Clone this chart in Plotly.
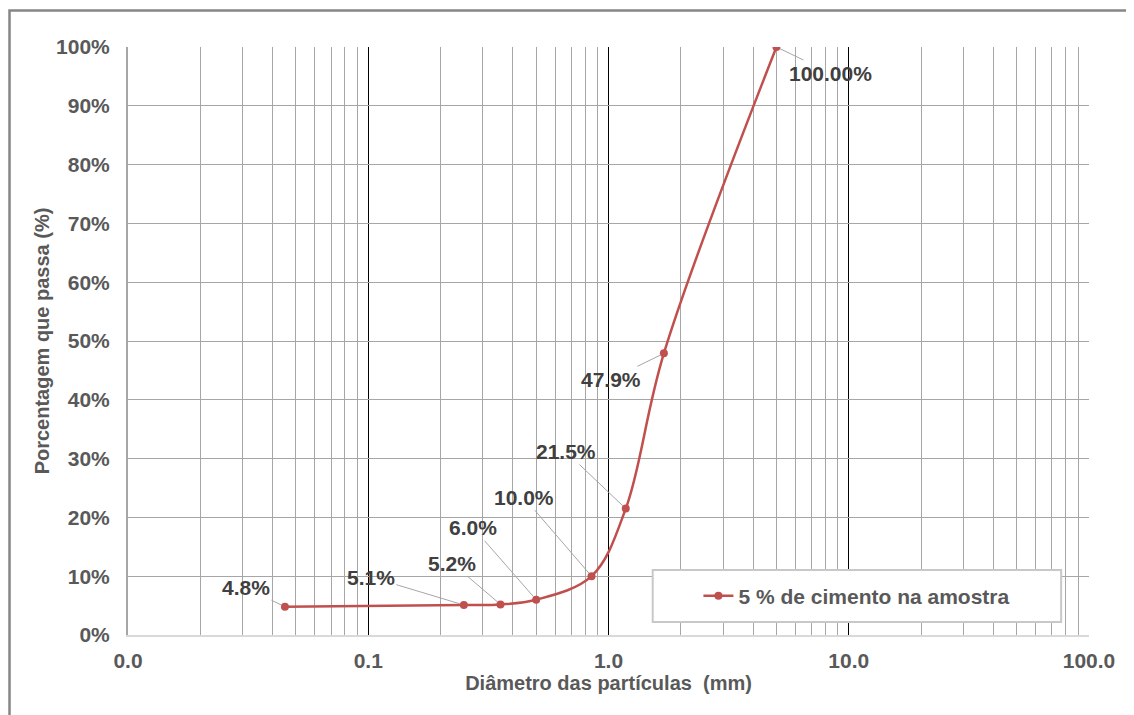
import math
import plotly.graph_objects as go

# Data
diametros = [0.045, 0.25, 0.355, 0.5, 0.85, 1.18, 1.7, 5.0]
passante = [4.8, 5.1, 5.2, 6.0, 10.0, 21.5, 47.9, 100.0]
rotulos = ["4.8%", "5.1%", "5.2%", "6.0%", "10.0%", "21.5%", "47.9%", "100.00%"]
serie_nome = "5 % de cimento na amostra"
decadas = [0.01, 0.1, 1, 10, 100]
decadas_txt = ["0.0", "0.1", "1.0", "10.0", "100.0"]
y_ticks = list(range(0, 101, 10))
y_ticktxt = [f"{v}%" for v in y_ticks]

# label offsets (pixels) for leader lines
label_ax = [-39, -93, -48, -63, -68, -60, -53, 54]
label_ay = [-19, -28, -41, -72, -79, -57, 26, 26]

FONT = "Liberation Sans, Arial, sans-serif"
RED = "#c0504d"
GRID = "#a6a6a6"

minor_vals = [d * m for d in decadas[:-1] for m in range(2, 10)]

fig = go.Figure()
fig.add_trace(go.Scatter(
    x=diametros, y=passante, mode="lines+markers", name="<b>" + serie_nome + "</b>",
    line=dict(color=RED, width=2.5, shape="spline", smoothing=1.0),
    marker=dict(color=RED, size=8),
    showlegend=True,
))

annotations = []
for x, y, t, ax, ay in zip(diametros, passante, rotulos, label_ax, label_ay):
    annotations.append(dict(
        x=math.log10(x), y=y, xref="x", yref="y", text="<b>" + t + "</b>",
        showarrow=True, arrowhead=0, arrowwidth=1, arrowcolor="#a6a6a6",
        ax=ax, ay=ay, standoff=4,
        font=dict(family=FONT, size=21, color="#404040"),
    ))

shapes = []
# outer chart frame
shapes.append(dict(type="rect", xref="paper", yref="paper", x0=-0.1233, x1=1.3,
                   y0=-0.3, y1=1.062, line=dict(color="#868686", width=2.5),
                   fillcolor="rgba(0,0,0,0)", layer="below"))
# legend box
shapes.append(dict(type="rect", xref="paper", yref="paper", x0=0.546, x1=0.971,
                   y0=0.022, y1=0.1105, line=dict(color="#c8c8c8", width=2),
                   fillcolor="white", layer="above"))

fig.update_layout(
    width=1126, height=707,
    margin=dict(l=120, r=45, t=39, b=80),
    paper_bgcolor="white", plot_bgcolor="white",
    font=dict(family=FONT, color="#595959"),
    xaxis=dict(
        type="log", range=[-2, 2],
        tickvals=decadas, ticktext=["<b>" + t + "</b>" for t in decadas_txt], ticks="",
        ticklabelstandoff=6,
        showgrid=True, gridcolor="#000000", gridwidth=1,
        minor=dict(tickmode="array", tickvals=minor_vals, showgrid=True,
                   gridcolor=GRID, gridwidth=1, ticks=""),
        showline=True, linecolor="#d9d9d9", linewidth=2, mirror=False,
        zeroline=False,
        tickfont=dict(family=FONT, size=21, color="#595959"),
        title=dict(text="<b>Diâmetro das partículas  (mm)</b>", standoff=3,
                   font=dict(family=FONT, size=20, color="#595959")),
    ),
    yaxis=dict(
        range=[0, 100], tickvals=y_ticks, ticktext=["<b>" + t + "</b>" for t in y_ticktxt], ticks="",
        ticklabelstandoff=12,
        showgrid=True, gridcolor=GRID, gridwidth=1, zeroline=False,
        showline=True, linecolor=GRID, linewidth=2,
        tickfont=dict(family=FONT, size=21, color="#595959"),
        title=dict(text="<b>Porcentagem que passa (%)</b>", standoff=1,
                   font=dict(family=FONT, size=20, color="#595959")),
    ),
    legend=dict(x=0.7585, y=0.066, xanchor="center", yanchor="middle",
                bgcolor="rgba(0,0,0,0)", borderwidth=0,
                font=dict(family=FONT, size=21, color="#595959")),
    annotations=annotations,
    shapes=shapes,
)

fig.write_html("out.html")
